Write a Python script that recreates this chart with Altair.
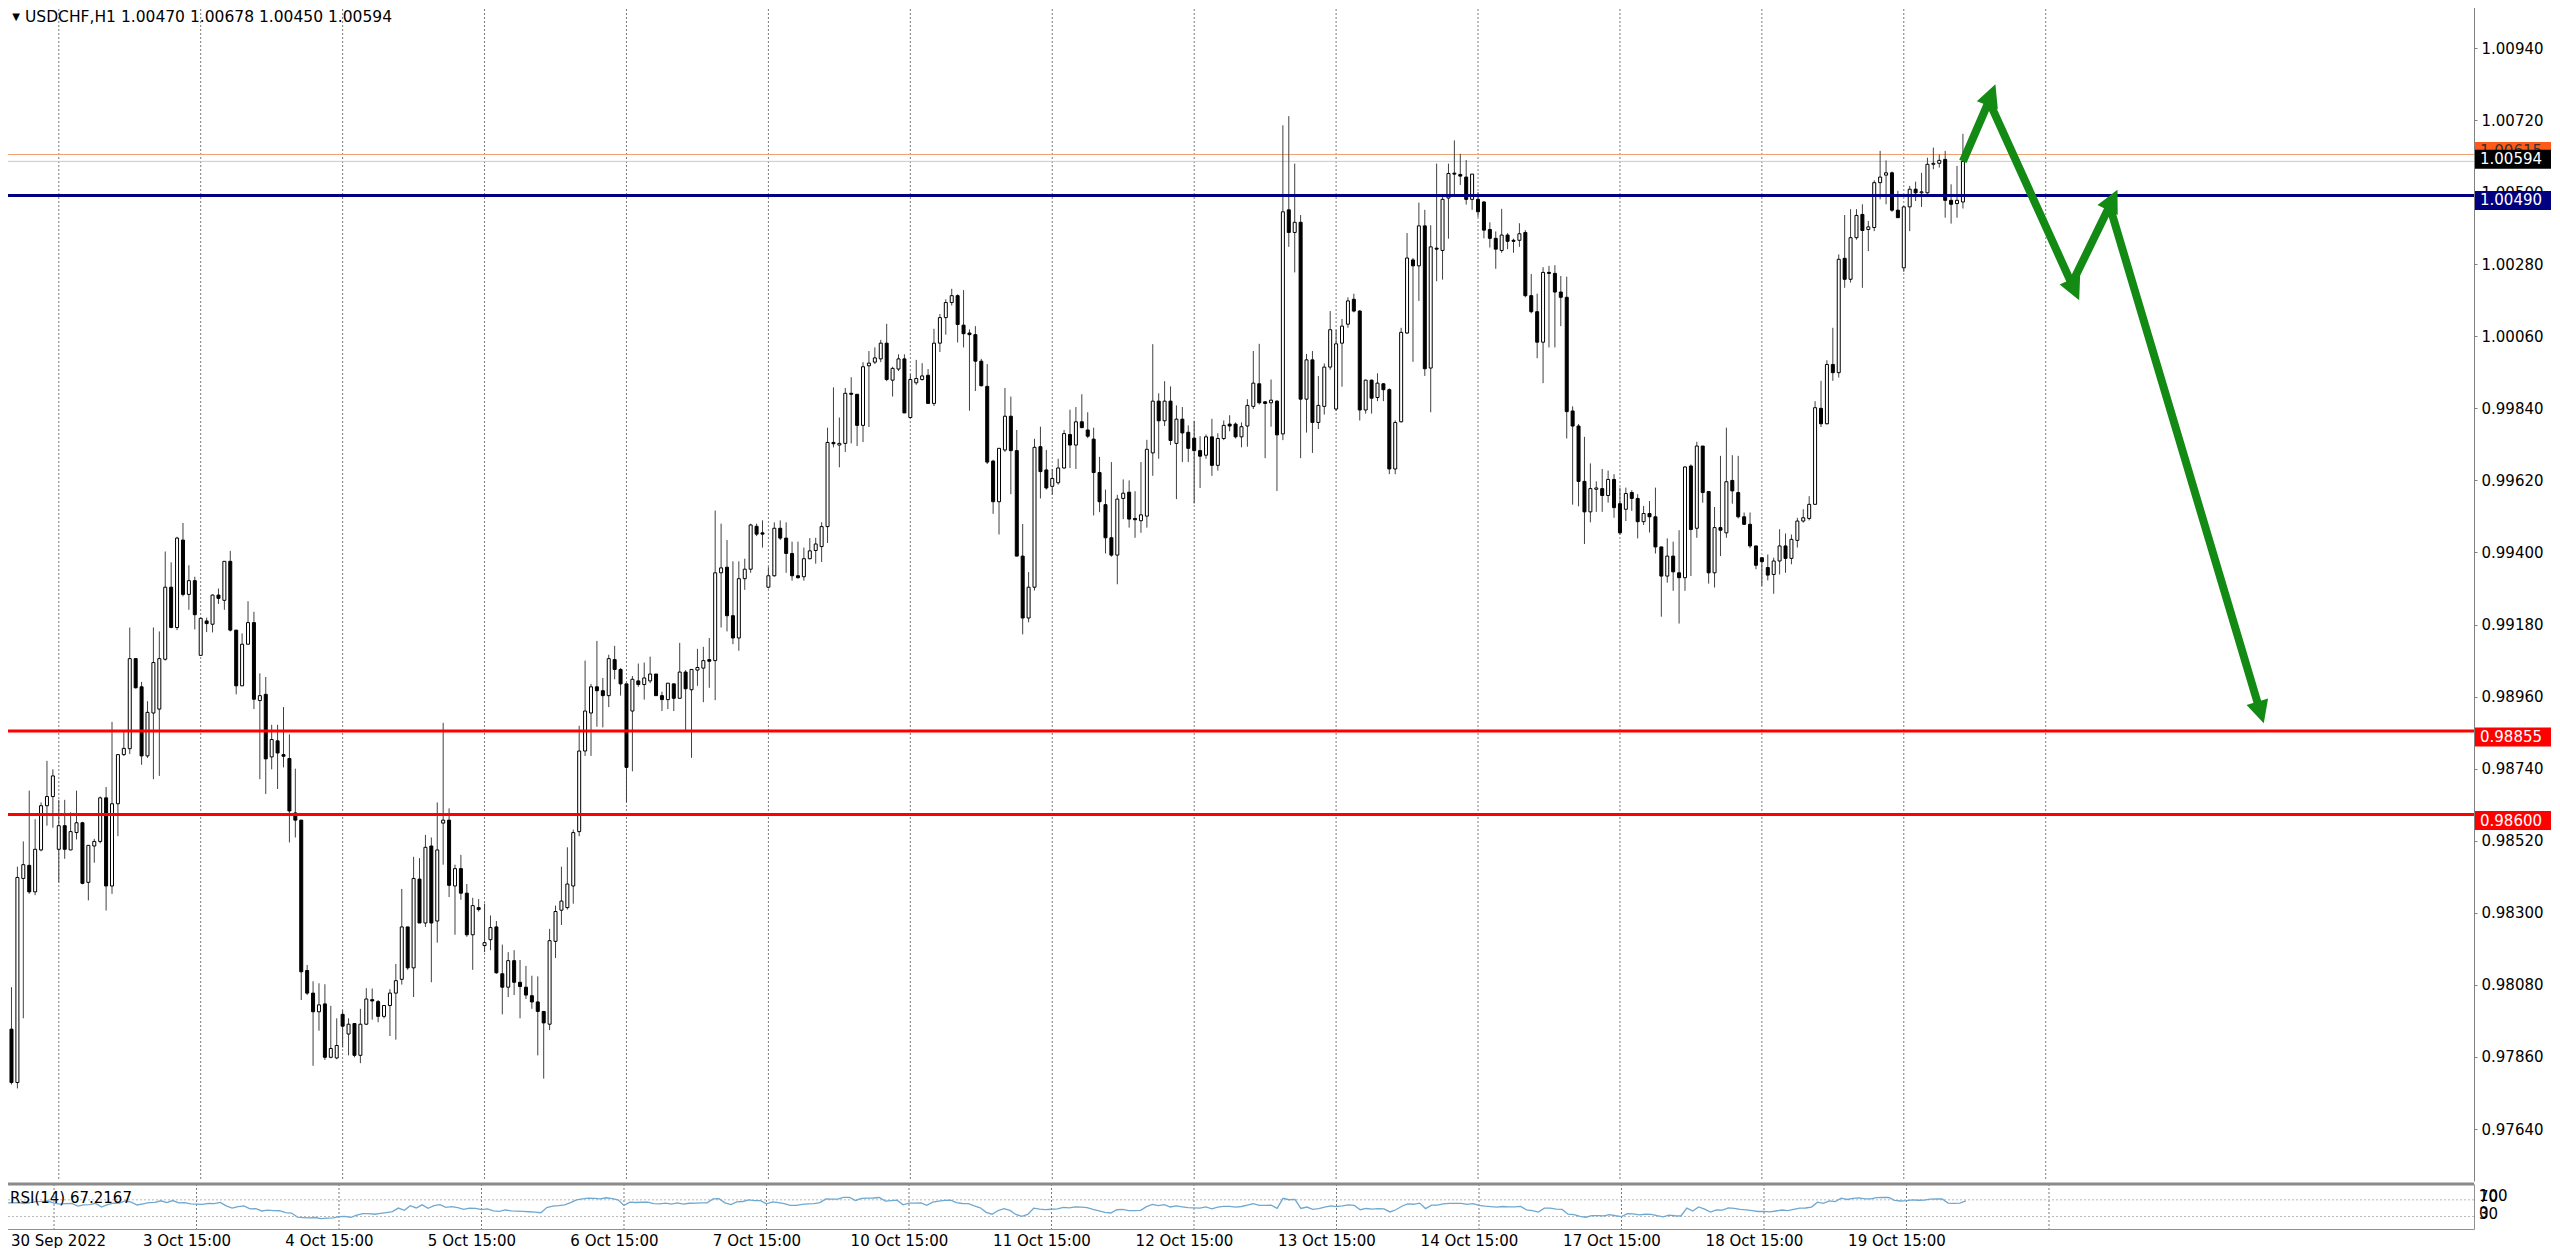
import json
import altair as alt
import numpy as np
import pandas as pd

# ------------------------------------------------------------------ data
opens = [
    0.97945, 0.97782, 0.98405, 0.98445, 0.98364, 0.98492, 0.98627, 0.98655, 0.98494, 0.98566,
    0.98492, 0.98545, 0.98575, 0.98393, 0.98504, 0.98518, 0.98651, 0.98382, 0.98633, 0.98783,
    0.98801, 0.99076, 0.98990, 0.98779, 0.98910, 0.98922, 0.99074, 0.99294, 0.99171, 0.99438,
    0.99272, 0.99314, 0.99086, 0.99191, 0.99181, 0.99270, 0.99254, 0.99373, 0.99163, 0.98993,
    0.99120, 0.99186, 0.98948, 0.98967, 0.98776, 0.98825, 0.98783, 0.98771, 0.98605, 0.98583,
    0.98124, 0.98055, 0.97998, 0.98022, 0.97859, 0.97857, 0.97990, 0.97930, 0.97962, 0.97865,
    0.97960, 0.98035, 0.98029, 0.97984, 0.98017, 0.98055, 0.98097, 0.98257, 0.98132, 0.98403,
    0.98269, 0.98504, 0.98275, 0.98574, 0.98583, 0.98382, 0.98435, 0.98360, 0.98233, 0.98316,
    0.98200, 0.98218, 0.98257, 0.98114, 0.98073, 0.98154, 0.98088, 0.98073, 0.98047, 0.98028,
    0.97999, 0.97960, 0.98213, 0.98308, 0.98316, 0.98382, 0.98548, 0.98794, 0.98910, 0.98990,
    0.98978, 0.98963, 0.99073, 0.99043, 0.98999, 0.98916, 0.99008, 0.98997, 0.99008, 0.99029,
    0.98963, 0.98951, 0.98999, 0.98955, 0.99035, 0.98981, 0.99041, 0.99047, 0.99073, 0.99070,
    0.99338, 0.99355, 0.99207, 0.99139, 0.99320, 0.99349, 0.99480, 0.99460, 0.99294, 0.99329,
    0.99474, 0.99444, 0.99397, 0.99329, 0.99326, 0.99381, 0.99406, 0.99418, 0.99479, 0.99736,
    0.99728, 0.99733, 0.99886, 0.99883, 0.99788, 0.99970, 0.99981, 0.99991, 1.00039, 0.99926,
    0.99960, 0.99991, 0.99812, 0.99918, 0.99928, 0.99941, 0.99855, 1.00039, 1.00117, 1.00163,
    1.00184, 1.00094, 1.00070, 1.00065, 0.99984, 0.99907, 0.99679, 0.99555, 0.99713, 0.99816,
    0.99711, 0.99389, 0.99200, 0.99294, 0.99723, 0.99652, 0.99602, 0.99613, 0.99658, 0.99760,
    0.99728, 0.99799, 0.99774, 0.99746, 0.99644, 0.99546, 0.99445, 0.99392, 0.99565, 0.99584,
    0.99504, 0.99497, 0.99511, 0.99704, 0.99862, 0.99802, 0.99862, 0.99733, 0.99807, 0.99767,
    0.99749, 0.99711, 0.99697, 0.99753, 0.99666, 0.99748, 0.99792, 0.99792, 0.99753, 0.99786,
    0.99846, 0.99915, 0.99860, 0.99857, 0.99862, 0.99762, 1.00446, 1.00377, 1.00408, 0.99868,
    0.99988, 0.99797, 0.99846, 0.99966, 0.99838, 1.00039, 1.00097, 1.00173, 1.00137, 0.99835,
    0.99926, 0.99873, 0.99915, 0.99897, 0.99655, 0.99799, 1.00070, 1.00293, 1.00275, 1.00397,
    0.99963, 1.00329, 1.00322, 1.00482, 1.00558, 1.00554, 1.00546, 1.00478, 1.00478, 1.00470,
    1.00386, 1.00359, 1.00322, 1.00369, 1.00353, 1.00353, 1.00377, 1.00184, 1.00135, 1.00042,
    1.00255, 1.00252, 1.00195, 1.00179, 0.99832, 0.99786, 0.99617, 0.99524, 0.99593, 0.99595,
    0.99574, 0.99623, 0.99549, 0.99532, 0.99583, 0.99565, 0.99494, 0.99519, 0.99509, 0.99417,
    0.99328, 0.99389, 0.99338, 0.99323, 0.99664, 0.99474, 0.99725, 0.99586, 0.99338, 0.99476,
    0.99460, 0.99620, 0.99583, 0.99509, 0.99486, 0.99420, 0.99384, 0.99354, 0.99333, 0.99374,
    0.99420, 0.99382, 0.99437, 0.99496, 0.99504, 0.99547, 0.99840, 0.99793, 0.99974, 0.99949,
    1.00298, 1.00234, 1.00361, 1.00432, 1.00386, 1.00392, 1.00529, 1.00552, 1.00559, 1.00445,
    1.00269, 1.00455, 1.00509, 1.00498, 1.00498, 1.00585, 1.00588, 1.00600, 1.00475, 1.00465,
    1.00470,
]
highs = [
    0.98073, 0.98441, 0.98518, 0.98673, 0.98586, 0.98637, 0.98764, 0.98738, 0.98645, 0.98645,
    0.98607, 0.98673, 0.98578, 0.98506, 0.98526, 0.98655, 0.98684, 0.98883, 0.98783, 0.98857,
    0.99171, 0.99076, 0.99005, 0.98946, 0.99171, 0.99159, 0.99403, 0.99370, 0.99448, 0.99490,
    0.99361, 0.99326, 0.99201, 0.99201, 0.99272, 0.99290, 0.99373, 0.99405, 0.99163, 0.99153,
    0.99251, 0.99219, 0.99031, 0.99020, 0.98874, 0.98874, 0.98928, 0.98845, 0.98740, 0.98583,
    0.98141, 0.98091, 0.98085, 0.98082, 0.98016, 0.97978, 0.98002, 0.97978, 0.97962, 0.98007,
    0.98070, 0.98069, 0.98034, 0.98017, 0.98067, 0.98144, 0.98373, 0.98257, 0.98471, 0.98467,
    0.98538, 0.98530, 0.98637, 0.98880, 0.98619, 0.98447, 0.98477, 0.98388, 0.98346, 0.98342,
    0.98328, 0.98292, 0.98275, 0.98203, 0.98180, 0.98186, 0.98156, 0.98138, 0.98108, 0.98106,
    0.97999, 0.98251, 0.98322, 0.98441, 0.98500, 0.98554, 0.98871, 0.99070, 0.98999, 0.99130,
    0.99017, 0.99088, 0.99115, 0.99047, 0.98999, 0.99023, 0.99061, 0.99064, 0.99082, 0.99029,
    0.98975, 0.99001, 0.98999, 0.99124, 0.99041, 0.99043, 0.99106, 0.99112, 0.99139, 0.99528,
    0.99488, 0.99438, 0.99373, 0.99373, 0.99381, 0.99488, 0.99488, 0.99498, 0.99355, 0.99492,
    0.99498, 0.99492, 0.99433, 0.99433, 0.99415, 0.99444, 0.99445, 0.99492, 0.99781, 0.99904,
    0.99812, 0.99902, 0.99935, 0.99883, 0.99981, 1.00015, 1.00026, 1.00049, 1.00098, 0.99967,
    1.00005, 1.00005, 0.99944, 0.99988, 0.99978, 0.99960, 1.00083, 1.00128, 1.00173, 1.00205,
    1.00188, 1.00201, 1.00081, 1.00091, 0.99991, 0.99975, 0.99683, 0.99718, 0.99902, 0.99876,
    0.99774, 0.99487, 0.99340, 0.99747, 0.99784, 0.99713, 0.99655, 0.99686, 0.99774, 0.99836,
    0.99844, 0.99883, 0.99828, 0.99781, 0.99692, 0.99592, 0.99676, 0.99576, 0.99623, 0.99620,
    0.99587, 0.99676, 0.99744, 1.00036, 0.99886, 0.99923, 0.99907, 0.99849, 0.99844, 0.99788,
    0.99802, 0.99755, 0.99760, 0.99808, 0.99764, 0.99803, 0.99819, 0.99797, 0.99797, 0.99868,
    1.00015, 1.00037, 0.99862, 0.99928, 0.99865, 1.00704, 1.00732, 1.00587, 1.00430, 1.00006,
    1.00015, 0.99939, 0.99977, 1.00137, 1.00080, 1.00113, 1.00179, 1.00190, 1.00140, 0.99928,
    0.99928, 0.99947, 0.99917, 0.99901, 0.99803, 1.00086, 1.00375, 1.00299, 1.00468, 1.00446,
    1.00399, 1.00587, 1.00493, 1.00587, 1.00658, 1.00617, 1.00598, 1.00555, 1.00500, 1.00473,
    1.00408, 1.00380, 1.00449, 1.00375, 1.00358, 1.00405, 1.00384, 1.00250, 1.00190, 1.00271,
    1.00275, 1.00277, 1.00244, 1.00242, 0.99846, 0.99792, 0.99753, 0.99672, 0.99617, 0.99655,
    0.99650, 0.99639, 0.99598, 0.99598, 0.99590, 0.99578, 0.99542, 0.99557, 0.99598, 0.99417,
    0.99443, 0.99433, 0.99468, 0.99664, 0.99669, 0.99738, 0.99725, 0.99586, 0.99539, 0.99695,
    0.99781, 0.99697, 0.99695, 0.99522, 0.99522, 0.99420, 0.99384, 0.99394, 0.99384, 0.99471,
    0.99458, 0.99455, 0.99506, 0.99532, 0.99572, 0.99862, 0.99924, 0.99987, 1.00086, 1.00310,
    1.00430, 1.00448, 1.00448, 1.00463, 1.00412, 1.00536, 1.00626, 1.00597, 1.00563, 1.00504,
    1.00458, 1.00519, 1.00532, 1.00559, 1.00605, 1.00636, 1.00615, 1.00626, 1.00524, 1.00580,
    1.00678,
]
lows = [
    0.97776, 0.97764, 0.97978, 0.98358, 0.98354, 0.98488, 0.98566, 0.98560, 0.98393, 0.98465,
    0.98492, 0.98524, 0.98387, 0.98338, 0.98453, 0.98512, 0.98307, 0.98358, 0.98534, 0.98779,
    0.98785, 0.98985, 0.98752, 0.98773, 0.98708, 0.98718, 0.99070, 0.99169, 0.99163, 0.99266,
    0.99225, 0.99165, 0.99086, 0.99157, 0.99156, 0.99243, 0.99225, 0.99159, 0.98967, 0.98993,
    0.99120, 0.98922, 0.98708, 0.98663, 0.98738, 0.98678, 0.98744, 0.98515, 0.98530, 0.98034,
    0.98049, 0.97833, 0.97940, 0.97851, 0.97856, 0.97853, 0.97889, 0.97865, 0.97859, 0.97841,
    0.97958, 0.97974, 0.97966, 0.97978, 0.97924, 0.97913, 0.98081, 0.98126, 0.98043, 0.98269,
    0.98257, 0.98088, 0.98209, 0.98447, 0.98348, 0.98233, 0.98340, 0.98227, 0.98126, 0.98304,
    0.98180, 0.98186, 0.98114, 0.97990, 0.98043, 0.98049, 0.97978, 0.98037, 0.98007, 0.97865,
    0.97794, 0.97942, 0.98162, 0.98263, 0.98310, 0.98328, 0.98534, 0.98779, 0.98779, 0.98868,
    0.98866, 0.98928, 0.99013, 0.98963, 0.98637, 0.98732, 0.98990, 0.98951, 0.99001, 0.98963,
    0.98916, 0.98922, 0.98916, 0.98955, 0.98854, 0.98773, 0.98993, 0.98943, 0.98987, 0.98949,
    0.99171, 0.99159, 0.99120, 0.99100, 0.99286, 0.99338, 0.99450, 0.99415, 0.99290, 0.99326,
    0.99438, 0.99338, 0.99314, 0.99320, 0.99314, 0.99379, 0.99366, 0.99371, 0.99429, 0.99721,
    0.99660, 0.99707, 0.99733, 0.99725, 0.99737, 0.99783, 0.99975, 0.99981, 0.99923, 0.99876,
    0.99954, 0.99826, 0.99809, 0.99912, 0.99925, 0.99855, 0.99847, 1.00012, 1.00065, 1.00154,
    1.00041, 1.00026, 0.99833, 0.99893, 0.99907, 0.99670, 0.99518, 0.99455, 0.99707, 0.99578,
    0.99389, 0.99150, 0.99187, 0.99284, 0.99565, 0.99592, 0.99576, 0.99607, 0.99655, 0.99658,
    0.99655, 0.99781, 0.99749, 0.99513, 0.99523, 0.99397, 0.99387, 0.99303, 0.99502, 0.99476,
    0.99445, 0.99460, 0.99476, 0.99634, 0.99686, 0.99786, 0.99728, 0.99563, 0.99676, 0.99676,
    0.99550, 0.99597, 0.99686, 0.99634, 0.99650, 0.99743, 0.99770, 0.99748, 0.99721, 0.99723,
    0.99838, 0.99852, 0.99688, 0.99784, 0.99588, 0.99743, 1.00333, 1.00255, 0.99688, 0.99766,
    0.99704, 0.99777, 0.99821, 0.99958, 0.99832, 0.99906, 1.00086, 1.00133, 0.99803, 0.99824,
    0.99824, 0.99862, 0.99862, 0.99639, 0.99639, 0.99797, 1.00067, 0.99982, 1.00168, 0.99939,
    0.99828, 1.00228, 1.00233, 1.00358, 1.00489, 1.00522, 1.00462, 1.00446, 1.00424, 1.00359,
    1.00331, 1.00266, 1.00315, 1.00326, 1.00315, 1.00333, 1.00179, 1.00130, 0.99993, 0.99917,
    1.00026, 1.00026, 1.00091, 0.99748, 0.99546, 0.99541, 0.99426, 0.99492, 0.99524, 0.99524,
    0.99552, 0.99506, 0.99455, 0.99496, 0.99527, 0.99443, 0.99484, 0.99461, 0.99397, 0.99204,
    0.99308, 0.99283, 0.99183, 0.99283, 0.99328, 0.99445, 0.99552, 0.99305, 0.99293, 0.99389,
    0.99445, 0.99549, 0.99504, 0.99484, 0.99413, 0.99349, 0.99298, 0.99315, 0.99274, 0.99333,
    0.99338, 0.99364, 0.99415, 0.99491, 0.99498, 0.99547, 0.99783, 0.99791, 0.99924, 0.99934,
    1.00208, 1.00224, 1.00355, 1.00208, 1.00320, 1.00381, 1.00478, 1.00463, 1.00440, 1.00422,
    1.00257, 1.00381, 1.00473, 1.00455, 1.00495, 1.00570, 1.00575, 1.00422, 1.00404, 1.00422,
    1.00450,
]
closes = [
    0.97782, 0.98408, 0.98447, 0.98364, 0.98494, 0.98627, 0.98655, 0.98718, 0.98566, 0.98494,
    0.98548, 0.98575, 0.98390, 0.98506, 0.98518, 0.98651, 0.98382, 0.98633, 0.98783, 0.98802,
    0.99076, 0.98987, 0.98779, 0.98912, 0.99064, 0.99076, 0.99294, 0.99171, 0.99444, 0.99272,
    0.99314, 0.99210, 0.99199, 0.99183, 0.99270, 0.99260, 0.99373, 0.99163, 0.98993, 0.99120,
    0.99186, 0.98952, 0.98963, 0.98770, 0.98829, 0.98788, 0.98778, 0.98611, 0.98583, 0.98120,
    0.98055, 0.97998, 0.98019, 0.97859, 0.97886, 0.97895, 0.97954, 0.97960, 0.97865, 0.97960,
    0.98037, 0.98031, 0.97984, 0.98017, 0.98055, 0.98093, 0.98257, 0.98132, 0.98405, 0.98269,
    0.98500, 0.98269, 0.98492, 0.98583, 0.98384, 0.98435, 0.98360, 0.98233, 0.98322, 0.98310,
    0.98209, 0.98255, 0.98117, 0.98073, 0.98154, 0.98088, 0.98075, 0.98049, 0.98028, 0.97999,
    0.97964, 0.98215, 0.98304, 0.98336, 0.98388, 0.98545, 0.98794, 0.98916, 0.98990, 0.98978,
    0.98963, 0.99076, 0.99043, 0.98999, 0.98744, 0.99013, 0.98997, 0.99017, 0.99029, 0.98963,
    0.98951, 0.99001, 0.98955, 0.99035, 0.98984, 0.99043, 0.99049, 0.99070, 0.99068, 0.99338,
    0.99353, 0.99207, 0.99139, 0.99320, 0.99349, 0.99484, 0.99456, 0.99456, 0.99329, 0.99474,
    0.99444, 0.99397, 0.99329, 0.99323, 0.99381, 0.99405, 0.99426, 0.99479, 0.99736, 0.99732,
    0.99733, 0.99886, 0.99883, 0.99788, 0.99967, 0.99978, 0.99994, 1.00039, 0.99928, 0.99962,
    0.99991, 0.99826, 0.99928, 0.99931, 0.99939, 0.99855, 1.00039, 1.00117, 1.00163, 1.00184,
    1.00096, 1.00068, 1.00065, 0.99984, 0.99909, 0.99676, 0.99555, 0.99718, 0.99816, 0.99711,
    0.99389, 0.99200, 0.99294, 0.99721, 0.99647, 0.99597, 0.99626, 0.99658, 0.99763, 0.99728,
    0.99799, 0.99781, 0.99755, 0.99644, 0.99555, 0.99445, 0.99392, 0.99563, 0.99581, 0.99502,
    0.99500, 0.99515, 0.99715, 0.99862, 0.99802, 0.99862, 0.99742, 0.99807, 0.99765, 0.99718,
    0.99711, 0.99694, 0.99753, 0.99666, 0.99748, 0.99788, 0.99786, 0.99753, 0.99784, 0.99849,
    0.99917, 0.99857, 0.99855, 0.99865, 0.99759, 1.00440, 1.00377, 1.00408, 0.99868, 0.99988,
    0.99797, 0.99849, 0.99966, 1.00080, 1.00037, 1.00091, 1.00168, 1.00137, 0.99835, 0.99926,
    0.99871, 0.99917, 0.99897, 0.99655, 0.99797, 1.00072, 1.00299, 1.00275, 1.00397, 0.99961,
    1.00333, 1.00326, 1.00478, 1.00557, 1.00555, 1.00549, 1.00478, 1.00555, 1.00440, 1.00384,
    1.00359, 1.00326, 1.00369, 1.00350, 1.00350, 1.00373, 1.00184, 1.00135, 1.00042, 1.00255,
    1.00252, 1.00195, 1.00179, 0.99830, 0.99786, 0.99617, 0.99524, 0.99595, 0.99597, 0.99574,
    0.99623, 0.99537, 0.99460, 0.99580, 0.99565, 0.99494, 0.99519, 0.99509, 0.99417, 0.99328,
    0.99389, 0.99341, 0.99323, 0.99661, 0.99470, 0.99725, 0.99583, 0.99338, 0.99476, 0.99468,
    0.99616, 0.99588, 0.99509, 0.99486, 0.99420, 0.99361, 0.99372, 0.99331, 0.99374, 0.99420,
    0.99382, 0.99440, 0.99496, 0.99506, 0.99547, 0.99842, 0.99793, 0.99974, 0.99949, 1.00295,
    1.00234, 1.00361, 1.00429, 1.00383, 1.00394, 1.00529, 1.00546, 1.00559, 1.00445, 1.00422,
    1.00455, 1.00509, 1.00498, 1.00501, 1.00585, 1.00588, 1.00597, 1.00475, 1.00463, 1.00475,
    1.00594,
]

grid_bars = [8, 32, 56, 80, 104, 128, 152, 176, 200, 224, 248, 272, 296, 320, 344]
grid_labels = ["30 Sep 2022", "3 Oct 15:00", "4 Oct 15:00", "5 Oct 15:00", "6 Oct 15:00",
               "7 Oct 15:00", "10 Oct 15:00", "11 Oct 15:00", "12 Oct 15:00", "13 Oct 15:00",
               "14 Oct 15:00", "17 Oct 15:00", "18 Oct 15:00", "19 Oct 15:00"]
price_ticks = [0.97640, 0.97860, 0.98080, 0.98300, 0.98520, 0.98740, 0.98960, 0.99180,
               0.99400, 0.99620, 0.99840, 1.00060, 1.00280, 1.00500, 1.00720, 1.00940]

support_levels = [0.98855, 0.98600]
resistance_level = [1.00490]
alert_level = [1.00615]
bid_level = [1.00594]

tag_prices = [1.00615, 1.00594, 1.00490, 0.98855, 0.98600]
tag_texts = ["1.00615", "1.00594", "1.00490", "0.98855", "0.98600"]

arrow_bars = [330, 334.4, 348.4, 354.8, 380.0]
arrow_prices = [1.00594, 1.00778, 1.00220, 1.00458, 0.98931]
arrow_angles = [21.0, 155.6, 26.0, 163.3]

header_text = "USDCHF,H1  1.00470 1.00678 1.00450 1.00594"
rsi_caption = "RSI(14) 67.2167"
rsi_scale_texts = ["100", "70", "30", "0"]
rsi_scale_values = [100, 70, 30, 0]
rsi_levels = [70, 30]

# ------------------------------------------------------------------ style / layout
FONT = "DejaVu Sans"
W = 2472
H_MAIN = 1180
H_RSI = 45
X_DOMAIN = [-0.758, 415.58]
Y_DOMAIN = [0.974814, 1.010835]
GREEN = "#138a13"

n = len(closes)
assert len(opens) == n and len(highs) == n and len(lows) == n, (len(opens), len(highs), len(lows), n)

candles = pd.DataFrame({"bar": np.arange(n), "open": opens, "high": highs,
                        "low": lows, "close": closes})
candles["high"] = candles[["high", "open", "close"]].max(axis=1)
candles["low"] = candles[["low", "open", "close"]].min(axis=1)
candles["dir"] = np.where(candles["close"] >= candles["open"], "up", "down")

# RSI(14), Wilder smoothing of the close-to-close changes
diffs = np.diff(np.asarray(closes))
avg_gain, avg_loss = 0.0007, 0.0007
rsi_vals = [np.nan]
for d in diffs:
    avg_gain = (avg_gain * 13 + max(d, 0.0)) / 14
    avg_loss = (avg_loss * 13 + max(-d, 0.0)) / 14
    rsi_vals.append(100 - 100 / (1 + avg_gain / avg_loss))
rsi_vals[0] = rsi_vals[1]
rsi_df = pd.DataFrame({"bar": np.arange(n), "rsi": rsi_vals})

xs = alt.Scale(domain=X_DOMAIN, nice=False, zero=False)
ys = alt.Scale(domain=Y_DOMAIN, nice=False, zero=False)
rs = alt.Scale(domain=[0, 108], nice=False, zero=False)

price_axis = alt.Axis(orient="right", values=price_ticks, format=".5f", title=None, grid=False,
                      labelFont=FONT, labelFontSize=15, labelColor="black", labelPadding=4,
                      tickSize=3, tickColor="#808080", domainColor="#808080", domainWidth=1,
                      labelFlush=False, labelOverlap=False, zindex=0)

grid_df = pd.DataFrame({"bar": grid_bars})

vgrid = alt.Chart(grid_df).mark_rule(color="#7a7a7a", strokeWidth=1, strokeDash=[2, 2]).encode(
    x=alt.X("bar:Q", scale=xs, axis=None))

bid_rule = alt.Chart(pd.DataFrame({"price": bid_level})).mark_rule(
    color="#c8c8c8", strokeWidth=1).encode(y=alt.Y("price:Q", scale=ys, axis=price_axis))
alert_rule = alt.Chart(pd.DataFrame({"price": alert_level})).mark_rule(
    color="#f0a070", strokeWidth=1).encode(y=alt.Y("price:Q", scale=ys))

wicks = alt.Chart(candles).mark_rule(color="#404040", strokeWidth=1).encode(
    x=alt.X("bar:Q", scale=xs),
    y=alt.Y("low:Q", scale=ys),
    y2="high:Q")
bodies = alt.Chart(candles).mark_bar(size=3, stroke="black", strokeWidth=1, opacity=1).encode(
    x=alt.X("bar:Q", scale=xs),
    y=alt.Y("open:Q", scale=ys),
    y2="close:Q",
    fill=alt.Fill("dir:N", scale=alt.Scale(domain=["up", "down"], range=["#ffffff", "#000000"]),
                  legend=None))

red_rules = alt.Chart(pd.DataFrame({"price": support_levels})).mark_rule(
    color="#ff0000", strokeWidth=3).encode(y=alt.Y("price:Q", scale=ys))
navy_rule = alt.Chart(pd.DataFrame({"price": resistance_level})).mark_rule(
    color="#000080", strokeWidth=3).encode(y=alt.Y("price:Q", scale=ys))

tag_bg = ["#ff5a1a", "#000000", "#000080", "#ff0000", "#ff0000"]
tag_fg = ["#333333", "#ffffff", "#ffffff", "#ffffff", "#ffffff"]
tag_off = [-3, -2, 5, 6, 6]
tag_layers = []
for p, t, bg, fg, off in zip(tag_prices, tag_texts, tag_bg, tag_fg, tag_off):
    d = pd.DataFrame({"price": [p], "label": [t]})
    tag_layers.append(alt.Chart(d).mark_tick(orient="horizontal", size=76, thickness=19,
                                             color=bg, opacity=1, yOffset=off).encode(
        y=alt.Y("price:Q", scale=ys), x=alt.value(2511)))
    tag_layers.append(alt.Chart(d).mark_text(align="left", baseline="middle", font=FONT,
                                             fontSize=15, color=fg, dy=off).encode(
        y=alt.Y("price:Q", scale=ys), x=alt.value(2478), text="label:N"))

arrow_df = pd.DataFrame({"bar": arrow_bars, "price": arrow_prices, "seq": np.arange(len(arrow_bars))})
arrow_line = alt.Chart(arrow_df).mark_line(color=GREEN, strokeWidth=8, strokeJoin="round",
                                           strokeCap="butt").encode(
    x=alt.X("bar:Q", scale=xs), y=alt.Y("price:Q", scale=ys), order="seq:Q")
heads_df = pd.DataFrame({"bar": arrow_bars[1:], "price": arrow_prices[1:], "ang": arrow_angles})
arrow_heads = alt.Chart(heads_df).mark_point(shape="M0,-1.2L0.75,0.3L-0.75,0.3Z", filled=True,
                                             size=900, color=GREEN, opacity=1, strokeWidth=0).encode(
    x=alt.X("bar:Q", scale=xs), y=alt.Y("price:Q", scale=ys),
    angle=alt.Angle("ang:Q", scale=None))

hdr_df = pd.DataFrame({"t": [header_text], "tri": ["\u25bc"]})
header = alt.Chart(hdr_df).mark_text(align="left", baseline="middle", font=FONT, fontSize=15.5,
                                     color="black").encode(
    x=alt.value(23), y=alt.value(16), text="t:N")
triangle = alt.Chart(hdr_df).mark_text(align="center", baseline="middle", font=FONT, fontSize=10,
                                       color="black").encode(
    x=alt.value(14), y=alt.value(16), text="tri:N")

main = alt.layer(vgrid, bid_rule, alert_rule, wicks, bodies, red_rules, navy_rule,
                 *tag_layers, arrow_line, arrow_heads, triangle, header).properties(
    width=W, height=H_MAIN)

# ------------------------------------------------------------------ RSI panel
label_expr = "{}[indexof({}, datum.value)]".format(json.dumps(grid_labels),
                                                  json.dumps(grid_bars[:len(grid_labels)]))
time_axis = alt.Axis(orient="bottom", values=grid_bars[:len(grid_labels)], labelExpr=label_expr,
                     title=None, grid=False, ticks=False, domain=True, domainColor="#909090",
                     labelFont=FONT, labelFontSize=15, labelColor="black", labelPadding=4,
                     labelFlush=False, labelOverlap=False,
                     labelOffset={"condition": {"test": "datum.value == 8", "value": 4}, "value": -10})
rsi_axis = alt.Axis(orient="right", values=[], labels=False, ticks=False, domain=True,
                    domainColor="#909090", title=None, grid=False)

rsi_grid = alt.Chart(grid_df).mark_rule(color="#7a7a7a", strokeWidth=1, strokeDash=[2, 2]).encode(
    x=alt.X("bar:Q", scale=xs, axis=time_axis))
rsi_lvl = alt.Chart(pd.DataFrame({"v": rsi_levels})).mark_rule(
    color="#b8b8b8", strokeWidth=1, strokeDash=[2, 2]).encode(y=alt.Y("v:Q", scale=rs, axis=rsi_axis))
rsi_line = alt.Chart(rsi_df).mark_line(color="#6fa8d0", strokeWidth=1.3).encode(
    x=alt.X("bar:Q", scale=xs),
    y=alt.Y("rsi:Q", scale=rs))
rsi_sep = alt.Chart(pd.DataFrame({"v": [108]})).mark_rule(color="#8a8a8a", strokeWidth=3).encode(
    y=alt.Y("v:Q", scale=rs))
rsi_cap = alt.Chart(pd.DataFrame({"t": [rsi_caption]})).mark_text(
    align="left", baseline="middle", font=FONT, fontSize=15, color="black").encode(
    x=alt.value(8), y=alt.value(14), text="t:N")
rsi_lbl_layers = []
for t, v, dy in zip(rsi_scale_texts, rsi_scale_values, [9, -3, -3, -16]):
    rsi_lbl_layers.append(alt.Chart(pd.DataFrame({"t": [t], "v": [v]})).mark_text(
        align="left", baseline="middle", font=FONT, fontSize=15, color="black", dy=dy).encode(
        x=alt.value(2477), y=alt.Y("v:Q", scale=rs), text="t:N"))

rsi_panel = alt.layer(rsi_grid, rsi_lvl, rsi_line, rsi_sep, rsi_cap, *rsi_lbl_layers).properties(
    width=W, height=H_RSI)

chart = alt.vconcat(main, rsi_panel, spacing=0).properties(
    padding={"left": -8, "top": -8, "right": 0, "bottom": 0},
    background="white",
).configure(font=FONT).configure_view(stroke=None)

chart.save("out.html", embed_options={"renderer": "svg", "actions": False})
